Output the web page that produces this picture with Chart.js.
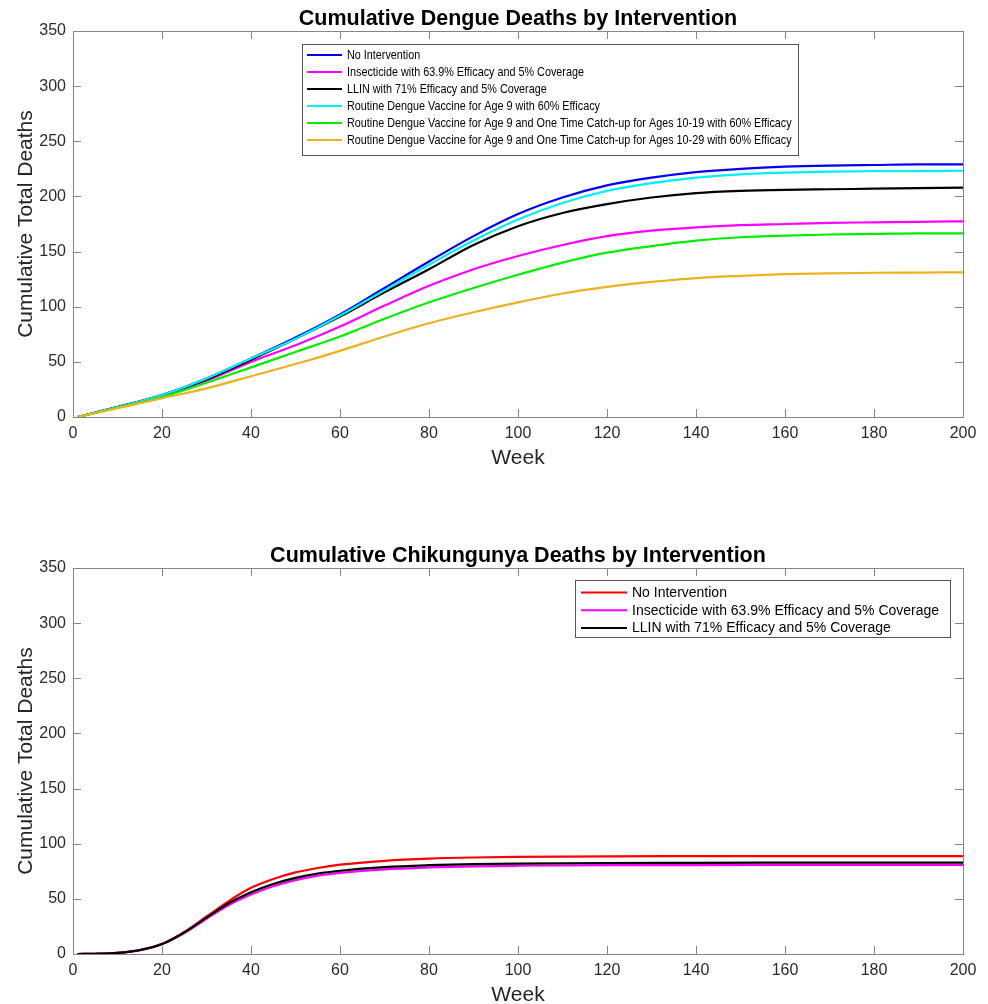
<!DOCTYPE html>
<html>
<head>
<meta charset="utf-8">
<title>Cumulative Deaths by Intervention</title>
<script src="https://cdn.jsdelivr.net/npm/chart.js@4.4.1/dist/chart.umd.min.js"></script>
<style>
  html, body { margin: 0; padding: 0; background: #fff; }
  #wrap { position: relative; width: 988px; height: 1004px; }
  canvas { position: absolute; left: 0; }
</style>
</head>
<body>
<div id="wrap">
  <canvas id="dengueChart" width="988" height="500" style="top:0"></canvas>
  <canvas id="chikChart" width="988" height="504" style="top:500px"></canvas>
</div>
<script>
// values (weeks on x, cumulative deaths on y)
const dengueWeeks = [1, 10, 20, 30, 40, 50, 60, 70, 80, 90, 100, 110, 120, 130, 140, 150, 160, 170, 180, 190, 200];
const dengueNone        = [0, 9, 20, 35, 53, 72, 93, 117, 141, 164, 184, 199, 210, 217, 222, 225, 227, 228, 228.5, 229, 229];
const dengueInsecticide = [0, 9, 19, 33, 50, 65, 82, 101, 119, 134, 146, 156, 164, 169, 172, 174, 175, 176, 176.5, 177, 177.4];
const dengueLLIN        = [0, 9, 20, 34, 52, 71, 91, 113, 134, 156, 173, 185, 193, 199, 203, 205, 206, 206.5, 207, 207.5, 208];
const dengueVaccine     = [0, 9, 20, 35, 53, 71, 92, 115, 138, 160, 179, 194, 205, 212, 217, 220, 221.5, 222.5, 223, 223, 223.3];
const dengueCatchup19   = [0, 8.5, 18, 31, 45, 59, 73, 89, 104, 117, 129, 140, 149, 155, 160, 163, 164.5, 165.5, 166, 166.5, 166.5];
const dengueCatchup29   = [0, 8, 17, 26, 37, 48, 60, 73, 85, 95, 104, 112, 118, 122.5, 126, 128, 129.5, 130.3, 130.8, 131, 131.2];

const chikWeeks = [1, 5, 10, 15, 20, 25, 30, 35, 40, 45, 50, 55, 60, 70, 80, 90, 100, 120, 140, 160, 200];
const chikNone        = [0, 0.2, 1, 3.5, 9, 20, 34, 48, 60, 68, 74, 78, 81, 84.5, 86.5, 87.5, 88, 88.5, 88.7, 88.8, 88.8];
const chikInsecticide = [0, 0.2, 1, 3.5, 9, 19, 32, 44.5, 54, 61.5, 67, 71, 73.5, 76.8, 78.5, 79.5, 80, 80.5, 80.6, 80.7, 80.7];
const chikLLIN        = [0, 0.2, 1, 3.5, 9, 19.5, 33, 46, 56, 63.5, 69, 73, 75.5, 78.8, 80.5, 81.5, 82, 82.5, 82.7, 82.8, 82.8];

const dengueLabels = [
  'No Intervention',
  'Insecticide with 63.9% Efficacy and 5% Coverage',
  'LLIN with 71% Efficacy and 5% Coverage',
  'Routine Dengue Vaccine for Age 9 with 60% Efficacy',
  'Routine Dengue Vaccine for Age 9 and One Time Catch-up for Ages 10-19 with 60% Efficacy',
  'Routine Dengue Vaccine for Age 9 and One Time Catch-up for Ages 10-29 with 60% Efficacy'
];
const chikLabels = [
  'No Intervention',
  'Insecticide with 63.9% Efficacy and 5% Coverage',
  'LLIN with 71% Efficacy and 5% Coverage'
];

const FONT = '"Liberation Sans", Helvetica, Arial, sans-serif';
const frameColor = '#858585';

function toPoints(xs, ys) {
  return xs.map((x, i) => ({ x: x, y: ys[i] }));
}

function makeSet(label, weeks, values, color, idx, count) {
  return {
    label: label,
    data: toPoints(weeks, values),
    borderColor: color,
    backgroundColor: color,
    borderWidth: 2.2,
    pointRadius: 0,
    fill: false,
    cubicInterpolationMode: 'monotone',
    order: count - idx   // matlab draws later lines on top
  };
}

// box, inward ticks, titles and legend the way matlab draws them
const matlabFrame = {
  id: 'matlabFrame',
  afterDraw(chart, args, opts) {
    const ctx = chart.ctx;
    const a = chart.chartArea;
    const xs = chart.scales.x, ys = chart.scales.y;
    ctx.save();
    ctx.strokeStyle = frameColor;
    ctx.lineWidth = 1;
    ctx.strokeRect(Math.round(a.left) + 0.5, Math.round(a.top) + 0.5,
                   Math.round(a.right) - Math.round(a.left), Math.round(a.bottom) - Math.round(a.top));
    ctx.beginPath();
    xs.ticks.forEach(t => {
      const px = Math.round(xs.getPixelForValue(t.value)) + 0.5;
      ctx.moveTo(px, a.bottom); ctx.lineTo(px, a.bottom - 8);
      ctx.moveTo(px, a.top); ctx.lineTo(px, a.top + 8);
    });
    ys.ticks.forEach(t => {
      const py = Math.round(ys.getPixelForValue(t.value)) + 0.5;
      ctx.moveTo(a.left, py); ctx.lineTo(a.left + 8, py);
      ctx.moveTo(a.right, py); ctx.lineTo(a.right - 8, py);
    });
    ctx.stroke();

    // titles
    ctx.fillStyle = '#000';
    ctx.textAlign = 'center';
    ctx.textBaseline = 'alphabetic';
    ctx.font = 'bold 21.5px ' + FONT;
    ctx.fillText(opts.title, (a.left + a.right) / 2, a.top - 6);
    ctx.fillStyle = '#262626';
    ctx.font = '21px ' + FONT;
    ctx.fillText(opts.xTitle, (a.left + a.right) / 2, a.bottom + 47);
    ctx.save();
    ctx.translate(31.5, (a.top + a.bottom) / 2);
    ctx.rotate(-Math.PI / 2);
    ctx.fillText(opts.yTitle, 0, 0);
    ctx.restore();

    // legend
    const lg = opts.legend;
    ctx.fillStyle = '#fff';
    ctx.fillRect(lg.left, lg.top, lg.width, lg.height);
    ctx.strokeStyle = '#555';
    ctx.lineWidth = 1;
    ctx.strokeRect(lg.left + 0.5, lg.top + 0.5, lg.width, lg.height);
    ctx.font = lg.fontSize + 'px ' + FONT;
    ctx.textAlign = 'left';
    ctx.textBaseline = 'middle';
    chart.data.datasets.forEach((ds, i) => {
      const cy = lg.firstRow + i * lg.rowStep;
      ctx.strokeStyle = ds.borderColor;
      ctx.lineWidth = 2;
      ctx.beginPath();
      ctx.moveTo(lg.lineFrom, cy);
      ctx.lineTo(lg.lineTo, cy);
      ctx.stroke();
      ctx.save();
      ctx.translate(lg.textX, cy + 0.5);
      ctx.scale(lg.squeeze, 1);
      ctx.fillStyle = '#000';
      ctx.fillText(ds.label, 0, 0);
      ctx.restore();
    });
    ctx.restore();
  }
};

function makeOptions(padTop, xHeight, frame) {
  return {
    responsive: false,
    animation: false,
    layout: { padding: { top: padTop, left: 0, right: 25, bottom: 0 } },
    plugins: {
      legend: { display: false },
      tooltip: { enabled: false },
      matlabFrame: frame
    },
    scales: {
      x: {
        type: 'linear',
        min: 0, max: 200,
        grid: { display: false, drawTicks: false },
        border: { display: false },
        ticks: { stepSize: 20, padding: 7, color: '#2b2b2b', font: { family: FONT, size: 16 } },
        afterFit: s => { s.height = xHeight; s.paddingLeft = 0; s.paddingRight = 0; }
      },
      y: {
        min: 0, max: 350,
        grid: { display: false, drawTicks: false },
        border: { display: false },
        ticks: { stepSize: 50, padding: 7, color: '#2b2b2b', font: { family: FONT, size: 16 } },
        afterFit: s => { s.width = 73; s.paddingTop = 0; s.paddingBottom = 0; }
      }
    }
  };
}

const dengueColors = ['#0000f0', '#ff00ff', '#000000', '#00f0f5', '#00ee00', '#edb120'];
const dengueSeries = [dengueNone, dengueInsecticide, dengueLLIN, dengueVaccine, dengueCatchup19, dengueCatchup29];

new Chart(document.getElementById('dengueChart'), {
  type: 'line',
  data: {
    datasets: dengueSeries.map((vals, i) =>
      makeSet(dengueLabels[i], dengueWeeks, vals, dengueColors[i], i, dengueSeries.length))
  },
  options: makeOptions(31, 83, {
    title: 'Cumulative Dengue Deaths by Intervention',
    xTitle: 'Week',
    yTitle: 'Cumulative Total Deaths',
    legend: { left: 302, top: 44, width: 496, height: 111, firstRow: 55, rowStep: 17,
              lineFrom: 307, lineTo: 342, textX: 347, fontSize: 13.5, squeeze: 0.8 }
  }),
  plugins: [matlabFrame]
});

const chikColors = ['#ff0000', '#ff00ff', '#000000'];
const chikSeries = [chikNone, chikInsecticide, chikLLIN];

new Chart(document.getElementById('chikChart'), {
  type: 'line',
  data: {
    datasets: chikSeries.map((vals, i) =>
      makeSet(chikLabels[i], chikWeeks, vals, chikColors[i], i, chikSeries.length))
  },
  options: makeOptions(68, 50, {
    title: 'Cumulative Chikungunya Deaths by Intervention',
    xTitle: 'Week',
    yTitle: 'Cumulative Total Deaths',
    legend: { left: 575, top: 80, width: 375, height: 57, firstRow: 92.5, rowStep: 17.7,
              lineFrom: 581, lineTo: 627, textX: 632, fontSize: 14, squeeze: 1 }
  }),
  plugins: [matlabFrame]
});
</script>
</body>
</html>
